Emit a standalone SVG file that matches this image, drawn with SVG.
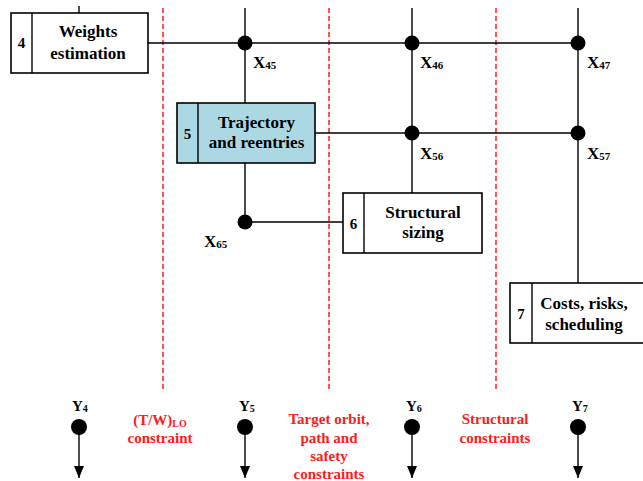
<svg xmlns="http://www.w3.org/2000/svg" width="643" height="481" viewBox="0 0 643 481">
  <defs>
    <style>
      .box { fill: #ffffff; stroke: #000000; stroke-width: 1.6; }
      .box.hl { fill: #acd8e3; }
      .div { stroke: #000000; stroke-width: 1.4; }
      .ln { stroke: #000000; stroke-width: 1.4; fill: none; }
      .dash { stroke: #ff2a2a; stroke-width: 1.6; stroke-dasharray: 5 3; fill: none; }
      .t { font-family: "Liberation Serif", "Times New Roman", serif; font-weight: bold; fill: #000000; }
      .lbl { font-size: 17px; text-anchor: middle; }
      .num { font-size: 15px; text-anchor: middle; }
      .x { font-size: 17px; }
      .sub { font-size: 11px; }
      .red { font-family: "Liberation Serif", "Times New Roman", serif; font-weight: bold; fill: #ff1a1a; font-size: 15px; text-anchor: middle; }
      .dot { fill: #000000; }
    </style>
    <marker id="arrow" viewBox="0 0 12 10" refX="12" refY="5" markerWidth="12" markerHeight="10" markerUnits="userSpaceOnUse" orient="auto">
      <path d="M0,0 L12,5 L0,10 Z" fill="#000000"/>
    </marker>
  </defs>

  <!-- constraint separators -->
  <g id="separators">
    <line class="dash" x1="163" y1="8" x2="163" y2="390"/>
    <line class="dash" x1="329" y1="8" x2="329" y2="390"/>
    <line class="dash" x1="496" y1="8" x2="496" y2="390"/>
  </g>

  <!-- coupling lines -->
  <g id="connectors">
    <line class="ln" x1="79" y1="6" x2="79" y2="13"/>
    <line class="ln" x1="148" y1="43" x2="578" y2="43"/>
    <line class="ln" x1="245" y1="8" x2="245" y2="103"/>
    <line class="ln" x1="245" y1="163" x2="245" y2="222"/>
    <line class="ln" x1="412" y1="8" x2="412" y2="193"/>
    <line class="ln" x1="578" y1="8" x2="578" y2="283"/>
    <line class="ln" x1="315" y1="133" x2="578" y2="133"/>
    <line class="ln" x1="245" y1="222" x2="343" y2="222"/>
    <!-- outputs -->
    <line class="ln" x1="79" y1="427" x2="79" y2="478" marker-end="url(#arrow)"/>
    <line class="ln" x1="245" y1="427" x2="245" y2="478" marker-end="url(#arrow)"/>
    <line class="ln" x1="412" y1="427" x2="412" y2="478" marker-end="url(#arrow)"/>
    <line class="ln" x1="578" y1="427" x2="578" y2="478" marker-end="url(#arrow)"/>
  </g>

  <!-- coupling points -->
  <g id="couplings">
    <circle class="dot" cx="245" cy="43" r="7.5"/>
    <circle class="dot" cx="412" cy="43" r="7.5"/>
    <circle class="dot" cx="578" cy="43" r="7.5"/>
    <circle class="dot" cx="412" cy="133" r="7.5"/>
    <circle class="dot" cx="578" cy="133" r="7.5"/>
    <circle class="dot" cx="245" cy="222" r="7.5"/>
    <text class="t x" x="253" y="68">X<tspan class="sub" dy="1">45</tspan></text>
    <text class="t x" x="420" y="68">X<tspan class="sub" dy="1">46</tspan></text>
    <text class="t x" x="587" y="68">X<tspan class="sub" dy="1">47</tspan></text>
    <text class="t x" x="420" y="159">X<tspan class="sub" dy="1">56</tspan></text>
    <text class="t x" x="587" y="159">X<tspan class="sub" dy="1">57</tspan></text>
    <text class="t x" x="204" y="247">X<tspan class="sub" dy="1">65</tspan></text>
  </g>

  <g id="node4">
    <rect class="box" x="11" y="13" width="137" height="60"/>
    <line class="div" x1="32" y1="13" x2="32" y2="73"/>
    <text class="t num" x="21.5" y="48">4</text>
    <text class="t lbl" x="88" y="37">Weights</text>
    <text class="t lbl" x="88" y="59">estimation</text>
  </g>

  <g id="node5">
    <rect class="box hl" x="177" y="103" width="138" height="60"/>
    <line class="div" x1="198" y1="103" x2="198" y2="163"/>
    <text class="t num" x="187.5" y="139">5</text>
    <text class="t lbl" x="256.5" y="128">Trajectory</text>
    <text class="t lbl" x="256.5" y="148">and reentries</text>
  </g>

  <g id="node6">
    <rect class="box" x="343" y="193" width="139" height="60"/>
    <line class="div" x1="364" y1="193" x2="364" y2="253"/>
    <text class="t num" x="353.5" y="229">6</text>
    <text class="t lbl" x="423" y="218">Structural</text>
    <text class="t lbl" x="423" y="238">sizing</text>
  </g>

  <g id="node7">
    <rect class="box" x="510" y="283" width="145" height="60"/>
    <line class="div" x1="532" y1="283" x2="532" y2="343"/>
    <text class="t num" x="521" y="319">7</text>
    <text class="t lbl" x="584" y="309">Costs, risks,</text>
    <text class="t lbl" x="584" y="330">scheduling</text>
  </g>

  <!-- outputs -->
  <g id="outputs">
    <circle class="dot" cx="79" cy="427" r="8"/>
    <circle class="dot" cx="245" cy="427" r="8"/>
    <circle class="dot" cx="412" cy="427" r="8"/>
    <circle class="dot" cx="578" cy="427" r="8"/>
    <text class="t" font-size="15" x="72" y="411">Y<tspan font-size="10" dy="1">4</tspan></text>
    <text class="t" font-size="15" x="239" y="411">Y<tspan font-size="10" dy="1">5</tspan></text>
    <text class="t" font-size="15" x="406" y="411">Y<tspan font-size="10" dy="1">6</tspan></text>
    <text class="t" font-size="15" x="572" y="411">Y<tspan font-size="10" dy="1">7</tspan></text>
  </g>

  <!-- constraint labels -->
  <g id="constraints">
    <text class="red" x="160" y="425">(T/W)<tspan font-size="10" dy="2">LO</tspan></text>
    <text class="red" x="160" y="443">constraint</text>
    <text class="red" x="329" y="424">Target orbit,</text>
    <text class="red" x="329" y="443">path and</text>
    <text class="red" x="329" y="461">safety</text>
    <text class="red" x="329" y="479">constraints</text>
    <text class="red" x="495" y="424">Structural</text>
    <text class="red" x="495" y="443">constraints</text>
  </g>
</svg>
